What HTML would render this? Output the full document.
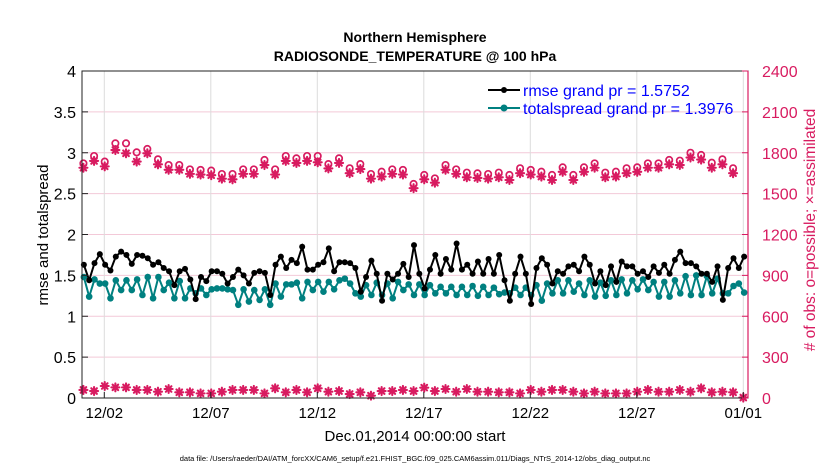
<!DOCTYPE html>
<html><head><meta charset="utf-8"><style>
body{margin:0;background:#fff;}
svg text{font-family:"Liberation Sans",Arial,sans-serif;}
</style></head><body>
<svg id="chart" width="830" height="470" xmlns="http://www.w3.org/2000/svg">
<rect width="830" height="470" fill="#fff"/>
<g id="grid"></g><g id="marks"></g><g id="axes"></g>
<text x="415" y="42" text-anchor="middle" font-size="14" font-weight="bold">Northern Hemisphere</text>
<text x="415" y="61" text-anchor="middle" font-size="14" font-weight="bold">RADIOSONDE_TEMPERATURE @ 100 hPa</text>
<text transform="translate(48,235) rotate(-90)" text-anchor="middle" font-size="15">rmse and totalspread</text>
<text transform="translate(815,230) rotate(-90)" text-anchor="middle" font-size="15.5" fill="#d81b60"># of obs: o=possible; ×=assimilated</text>
<text x="415" y="441" text-anchor="middle" font-size="15">Dec.01,2014 00:00:00 start</text>
<text x="415" y="461" text-anchor="middle" font-size="7.5">data file: /Users/raeder/DAI/ATM_forcXX/CAM6_setup/f.e21.FHIST_BGC.f09_025.CAM6assim.011/Diags_NTrS_2014-12/obs_diag_output.nc</text>
<g>
<line x1="488" y1="90" x2="520" y2="90" stroke="#000" stroke-width="2"/><circle cx="504" cy="90" r="3" fill="#000"/>
<text x="523" y="96" font-size="16" fill="#0000ff">rmse grand pr = 1.5752</text>
<line x1="488" y1="108" x2="520" y2="108" stroke="#008080" stroke-width="2"/><circle cx="504" cy="108" r="3.5" fill="#008080"/>
<text x="523" y="114" font-size="16" fill="#0000ff">totalspread grand pr = 1.3976</text>
</g>
</svg>
<script>
const rmseValues=[1.63,1.44,1.65,1.76,1.63,1.56,1.73,1.79,1.75,1.64,1.75,1.74,1.71,1.63,1.66,1.59,1.55,1.38,1.55,1.58,1.45,1.21,1.48,1.43,1.55,1.55,1.52,1.40,1.48,1.57,1.50,1.40,1.53,1.55,1.53,1.26,1.63,1.73,1.59,1.69,1.65,1.85,1.57,
1.57,1.63,1.66,1.83,1.55,1.66,1.66,1.65,1.59,1.30,1.48,1.68,1.52,1.19,1.52,1.45,1.52,1.64,1.48,1.87,1.52,1.34,1.57,1.75,1.52,1.70,1.57,1.89,1.57,1.63,1.52,1.67,1.52,1.70,1.52,1.75,1.44,1.19,1.52,1.73,1.52,1.15,
1.59,1.71,1.63,1.40,1.55,1.52,1.61,1.63,1.55,1.73,1.63,1.40,1.55,1.38,1.61,1.42,1.67,1.61,1.61,1.52,1.55,1.48,1.61,1.53,1.63,1.52,1.69,1.79,1.65,1.65,1.61,1.52,1.52,1.42,1.61,1.20,1.59,1.71,1.59,1.73];
const spreadValues=[1.48,1.24,1.45,1.40,1.40,1.22,1.44,1.32,1.44,1.32,1.45,1.26,1.48,1.22,1.48,1.32,1.41,1.22,1.43,1.22,1.34,1.28,1.34,1.26,1.33,1.34,1.34,1.33,1.32,1.14,1.33,1.18,1.32,1.20,1.33,1.14,1.40,1.24,1.39,1.39,1.41,1.22,1.42,
1.32,1.42,1.30,1.42,1.33,1.44,1.46,1.40,1.28,1.24,1.38,1.26,1.41,1.26,1.40,1.22,1.42,1.32,1.39,1.26,1.39,1.26,1.38,1.28,1.36,1.28,1.36,1.26,1.36,1.26,1.37,1.25,1.36,1.26,1.35,1.27,1.29,1.28,1.35,1.26,1.35,1.26,
1.38,1.19,1.40,1.28,1.44,1.28,1.44,1.30,1.40,1.26,1.44,1.24,1.41,1.25,1.44,1.26,1.45,1.28,1.44,1.33,1.45,1.32,1.42,1.24,1.42,1.24,1.44,1.28,1.49,1.26,1.50,1.26,1.49,1.28,1.46,1.28,1.28,1.37,1.40,1.29];
const possibleTop=[1722,1776,1735,1869,1869,1803,1828,1752,1710,1710,1678,1674,1669,1644,1644,1678,1678,1747,1678,1776,1759,1776,1776,1717,1759,1686,1717,1644,1661,1678,1674,1571,
1637,1612,1710,1678,1654,1649,1644,1654,1637,1686,1674,1661,1637,1693,1637,1693,1722,1654,1661,1686,1693,1722,1722,1747,1742,1800,1784,1727,1752,1686];
const assimTop=[1690,1740,1700,1820,1796,1735,1796,1715,1675,1675,1645,1640,1635,1610,1605,1645,1645,1710,1640,1740,1725,1740,1730,1685,1725,1650,1680,1610,1625,1645,1640,1540,
1605,1580,1675,1645,1620,1615,1610,1620,1600,1650,1640,1625,1600,1660,1600,1660,1690,1620,1625,1650,1660,1690,1690,1715,1710,1765,1750,1690,1715,1650];
const obsBottom=[59,51,88,78,78,59,59,46,66,42,42,34,34,46,59,59,59,34,71,42,59,42,71,46,51,29,42,17,51,51,59,51,76,51,66,46,66,46,46,42,42,34,59,46,59,59,46,34,46,34,34,34,46,59,46,46,59,46,71,42,46,42,3];
const leftTicks=[0,0.5,1,1.5,2,2.5,3,3.5,4];
const rightTicks=[0,300,600,900,1200,1500,1800,2100,2400];
const dateTicks=[1,6,11,16,21,26,31];
const dateLabels=["12/02","12/07","12/12","12/17","12/22","12/27","01/01"];

const NS="http://www.w3.org/2000/svg";
const L=82,R=748,T=71,B=398,MAG="#d81b60";
const x=t=>83+21.3*t;
const yL=v=>B-(v/4)*(B-T);
const yR=v=>B-(v/2400)*(B-T);
function mk(tag,attrs,parent){const e=document.createElementNS(NS,tag);for(const k in attrs)e.setAttribute(k,attrs[k]);parent.appendChild(e);return e;}
const grid=document.getElementById('grid'),marks=document.getElementById('marks'),axes=document.getElementById('axes');
leftTicks.forEach(v=>{const l=mk('line',{x1:L,x2:R,y1:yL(v),y2:yL(v),stroke:'#f3c9d8','stroke-width':1},grid);

});
dateTicks.forEach((d,i)=>{if(x(d)<R-2){const l=mk('line',{x1:x(d),x2:x(d),y1:T,y2:B,stroke:'#dcdcdc','stroke-width':1},grid);

}
const tk=mk('line',{x1:x(d),x2:x(d),y1:B,y2:B-6,stroke:'#222'},axes);


const tx=mk('text',{x:Math.min(x(d),745),y:B+20,'text-anchor':'middle','font-size':15},axes);tx.textContent=dateLabels[i];

});
function series(vals,color,r,name){const pts=vals.map((v,i)=>[x(i*0.25+0.04),yL(v)]);
const pl=mk('polyline',{points:pts.map(p=>p.join(',')).join(' '),fill:'none',stroke:color,'stroke-width':2},marks);


pts.forEach(p=>{const c=mk('circle',{cx:p[0],cy:p[1],r:r,fill:color},marks);

});}
series(spreadValues,'#008080',3.3,'totalspread');
series(rmseValues,'#000',3,'rmse');
function star(cx,cy,name){const g=mk('g',{stroke:MAG,'stroke-width':2.1,'stroke-linecap':'round'},marks);


const s=4;mk('line',{x1:cx-s,x2:cx+s,y1:cy,y2:cy},g);mk('line',{x1:cx,x2:cx,y1:cy-s,y2:cy+s},g);
mk('line',{x1:cx-2.8,x2:cx+2.8,y1:cy-2.8,y2:cy+2.8},g);mk('line',{x1:cx-2.8,x2:cx+2.8,y1:cy+2.8,y2:cy-2.8},g);}
function ring(cx,cy,name){const c=mk('circle',{cx:cx,cy:cy,r:3.2,fill:'none',stroke:MAG,'stroke-width':1.7},marks);

}
possibleTop.forEach((v,i)=>ring(x(i*0.5+0.02),yR(v),'obs-possible-marker'));
assimTop.forEach((v,i)=>star(x(i*0.5+0.02),yR(v),'obs-assimilated-marker'));
obsBottom.forEach((v,i)=>{const t=i<62?i*0.5+0.02:31;star(x(t),yR(v),'obs-assimilated-marker-low');});
const bx=mk('path',{d:`M${L},${T}H${R}V${B}H${L}Z`,fill:'none',stroke:'#222','stroke-width':1},axes);


const ra=mk('line',{x1:R,x2:R,y1:T,y2:B,stroke:MAG,'stroke-width':1.2},axes);


leftTicks.forEach(v=>{const tk=mk('line',{x1:L,x2:L+6,y1:yL(v),y2:yL(v),stroke:'#222'},axes);


const t=mk('text',{x:L-6,y:yL(v)+6,'text-anchor':'end','font-size':16},axes);t.textContent=String(v);

});
rightTicks.forEach(v=>{const tk=mk('line',{x1:R,x2:R-6,y1:yR(v),y2:yR(v),stroke:MAG},axes);


const t=mk('text',{x:R+14,y:yR(v)+6,'font-size':16,fill:MAG},axes);t.textContent=String(v);

});
</script>
</body></html>
